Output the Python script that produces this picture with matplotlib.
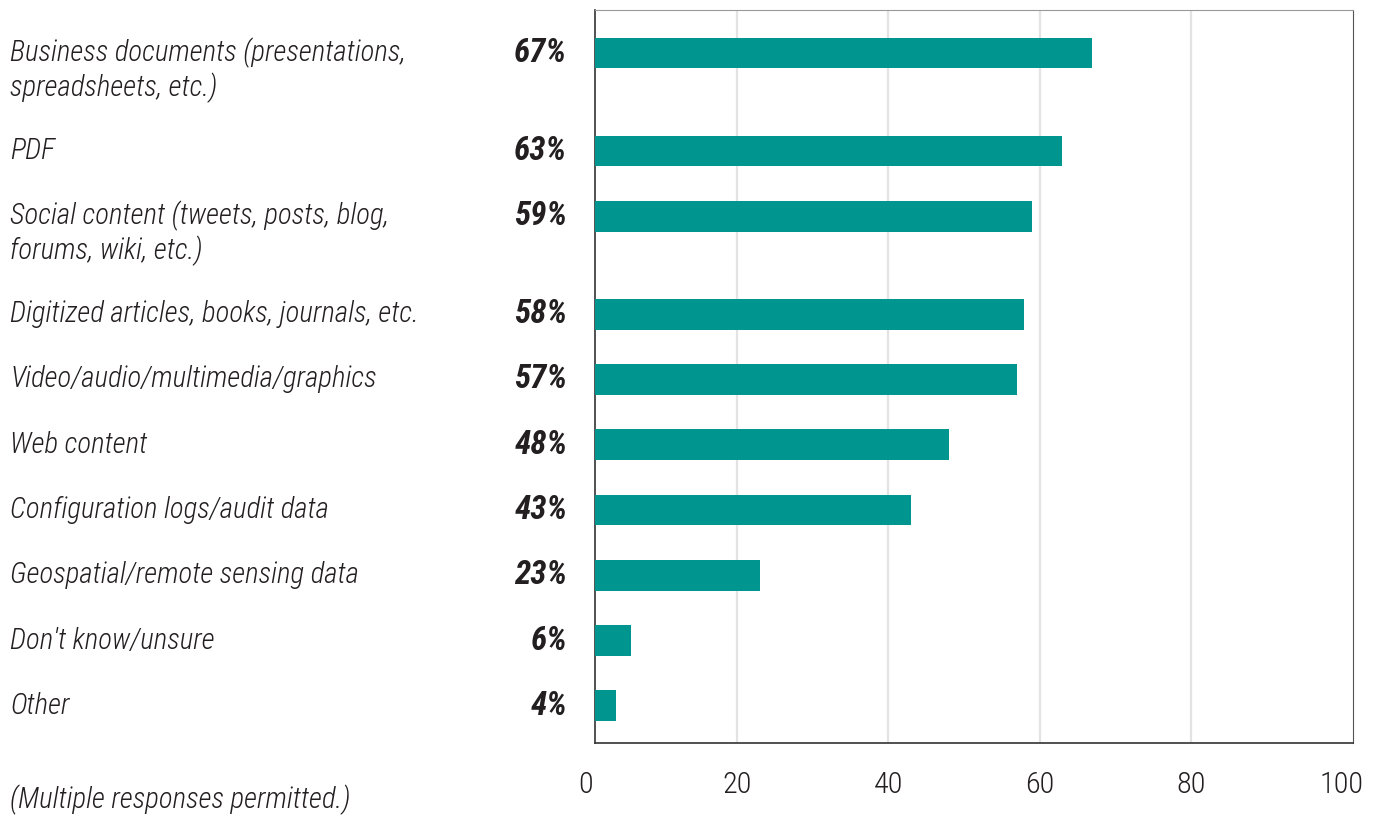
import matplotlib
matplotlib.use("Agg")
import matplotlib.pyplot as plt
import matplotlib.font_manager as fm
import matplotlib.transforms as mtransforms

# данные
categories = [
    "Business documents (presentations,\nspreadsheets, etc.)",
    "PDF",
    "Social content (tweets, posts, blog,\nforums, wiki, etc.)",
    "Digitized articles, books, journals, etc.",
    "Video/audio/multimedia/graphics",
    "Web content",
    "Configuration logs/audit data",
    "Geospatial/remote sensing data",
    "Don't know/unsure",
    "Other",
]
values = [67, 63, 59, 58, 57, 48, 43, 23, 6, 4]
x_ticks = [0, 20, 40, 60, 80, 100]
footnote = "(Multiple responses permitted.)"

# подбираем узкий шрифт, если он есть
installed = {f.name for f in fm.fontManager.ttflist}
family = "DejaVu Sans"
for cand in ["Roboto Condensed", "Liberation Sans Narrow", "Roboto"]:
    if cand in installed:
        family = cand
        break
size = 20.8 if family != "Roboto" else 15
plt.rcParams["font.family"] = [family, "DejaVu Sans"]

teal = "#00968f"
ink = "#231f20"

# позиции: строка с двумя строками текста занимает больше места
positions = []
y = 0.0
for lab in categories:
    positions.append(y)
    y += 1.0 + 0.5 * lab.count("\n")

fig = plt.figure(figsize=(13.83, 8.21), dpi=100)
ax = fig.add_axes([595 / 1383, 78 / 821, 758 / 1383, 733 / 821])

ax.barh(positions, values, height=0.47, color=teal, zorder=3)
ax.set_yticks([])
ax.set_xticks(x_ticks)
ax.set_xticklabels([str(t) for t in x_ticks], fontsize=size + 1, color=ink,
                   fontweight="light")
# ось в оригинале начинается чуть правее нуля (после set_xticks!)
x_left = 1.2
ax.set_xlim(x_left, 101.46)
ax.set_ylim(positions[-1] + 0.57, positions[0] - 0.66)
ax.tick_params(axis="x", length=0, pad=20)
# сетка только внутри, без линии на 100
for t in x_ticks[1:-1]:
    ax.axvline(t, color="#e3e3e3", linewidth=1.6, zorder=0)

# подпись "0" стоит левее рамки, рисуем её вручную
ax.annotate(str(x_ticks[0]), xy=(x_ticks[0], 0), xycoords=ax.get_xaxis_transform(),
            xytext=(0, -20), textcoords="offset points", ha="center", va="top",
            fontsize=size + 1, fontweight="light", color=ink, annotation_clip=False)

for side in ["left", "bottom"]:
    ax.spines[side].set_color("#333333")
    ax.spines[side].set_linewidth(1.2)
ax.spines["top"].set_color("#999999")
ax.spines["right"].set_color("#555555")

trans = mtransforms.blended_transform_factory(fig.transFigure, ax.transData)
line_step = 0.535
for pos, lab, val in zip(positions, categories, values):
    for i, line in enumerate(lab.split("\n")):
        fig.text(10 / 1383, pos + i * line_step, line, transform=trans,
                 ha="left", va="center", fontsize=size, style="italic",
                 fontweight="light", color=ink)
    ax.annotate(f"{val}%", xy=(x_left, pos), xytext=(-20, 0),
                textcoords="offset points", ha="right", va="center",
                fontsize=size + 3, style="italic", fontweight="bold",
                color=ink, annotation_clip=False)

fig.text(10 / 1383, 21 / 821, footnote, ha="left", va="center",
         fontsize=size, style="italic", fontweight="light", color=ink)

fig.savefig("out.png", dpi=100)
